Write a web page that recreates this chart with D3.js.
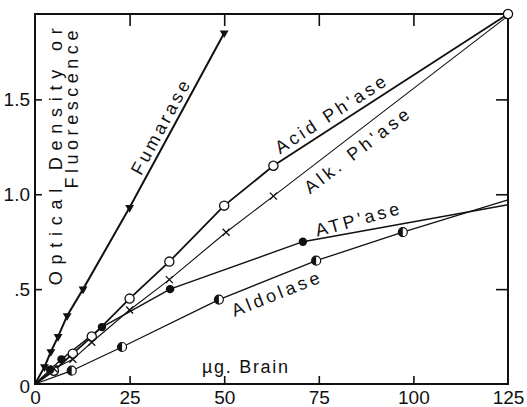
<!DOCTYPE html>
<html>
<head>
<meta charset="utf-8">
<script src="https://cdn.jsdelivr.net/npm/d3@7"></script>
<style>
  body { margin: 0; background: #fff; }
  svg text { font-family: "Liberation Sans", Arial, sans-serif; fill: #111; }
</style>
</head>
<body>
<script>
// values (µg brain vs optical density / fluorescence)
const x_ticks = [0, 25, 50, 75, 100, 125]
const y_ticks = [0, 0.5, 1.0, 1.5]
const y_tick_labels = ['0', '.5', '1.0', '1.5']

const fumarase_ug = [0, 2.5, 4.2, 6.1, 8.5, 12.7, 25, 50]
const fumarase_od = [0, 0.09, 0.17, 0.25, 0.36, 0.50, 0.93, 1.85]

const acid_ug = [0, 5, 10, 15, 25, 35.5, 50, 63, 125]
const acid_od = [0, 0.07, 0.16, 0.25, 0.45, 0.645, 0.94, 1.15, 1.95]

const alk_ug = [0, 5, 10, 15, 25, 35.5, 50.5, 63, 125]
const alk_od = [0, 0.08, 0.13, 0.22, 0.39, 0.55, 0.80, 0.99, 1.94]

const atp_ug = [0, 4, 7, 17.7, 35.7, 70.8, 125]
const atp_od = [0, 0.075, 0.13, 0.30, 0.50, 0.75, 0.945]

const aldolase_ug = [0, 9.7, 23, 48.6, 74.3, 97.2, 125]
const aldolase_od = [0, 0.07, 0.195, 0.445, 0.65, 0.80, 0.97]

const width = 527
const height = 407

const svg = d3.select('body').append('svg')
  .attr('width', width)
  .attr('height', height)
  .attr('viewBox', '0,0,' + width + ',' + height)

const x = d3.scaleLinear().domain([0, 125]).range([35, 508])
const y = d3.scaleLinear().domain([0, 1.95]).range([384, 14])

function zip(us, ods){ return us.map((u, i) => [u, ods[i]]) }

const series = [
  {name: 'Fumarase', pts: zip(fumarase_ug, fumarase_od), mark: 'tri', sw: 2, last: true,
   label: {at: 35.7, off: -5, len: 104, rot: 0}},
  {name: "Acid Ph'ase", pts: zip(acid_ug, acid_od), mark: 'open', sw: 1.8, last: true,
   label: {at: 79.8, off: -6, len: 128, rot: 0}},
  {name: "Alk. Ph'ase", pts: zip(alk_ug, alk_od), mark: 'cross', sw: 1.1, last: false,
   label: {at: 82.6, off: 21, len: 127, rot: 0}},
  {name: "ATP'ase", pts: zip(atp_ug, atp_od), mark: 'filled', sw: 1.4, last: false,
   label: {at: 86, off: -6, len: 86, rot: -5}},
  {name: 'Aldolase', pts: zip(aldolase_ug, aldolase_od), mark: 'half', sw: 1.3, last: false,
   label: {at: 62, off: 22, len: 93, rot: 0}}
]

// box
svg.append('rect')
  .attr('x', x(0)).attr('y', y(1.95))
  .attr('width', x(125) - x(0)).attr('height', y(0) - y(1.95))
  .attr('fill', 'none').attr('stroke', '#111').attr('stroke-width', 2)

// axes, ticks pointing inward
const bottom = svg.append('g')
  .attr('transform', 'translate(0,' + y(0) + ')')
  .call(d3.axisBottom(x).tickValues(x_ticks).tickSize(-8).tickPadding(7))
const left = svg.append('g')
  .attr('transform', 'translate(' + x(0) + ',0)')
  .call(d3.axisLeft(y).tickValues(y_ticks).tickSize(-7).tickPadding(5)
    .tickFormat((d, i) => y_tick_labels[i]))
const top_axis = svg.append('g')
  .attr('transform', 'translate(0,' + y(1.95) + ')')
  .call(d3.axisTop(x).tickValues(x_ticks.slice(1, -1)).tickSize(-12).tickFormat(''))
const right = svg.append('g')
  .attr('transform', 'translate(' + x(125) + ',0)')
  .call(d3.axisRight(y).tickValues(y_ticks.slice(1)).tickSize(-12).tickFormat(''))

for (const ax of [bottom, left, top_axis, right]) {
  ax.select('.domain').remove()
  ax.selectAll('line').attr('stroke', '#111').attr('stroke-width', 1.6)
  ax.selectAll('text').attr('font-size', 19).attr('fill', '#111')
    .style('font-family', '"Liberation Sans", Arial, sans-serif')
}
bottom.selectAll('.tick').filter(d => d == 0 || d == 125).select('line').remove()
left.selectAll('.tick').filter(d => d == 0).select('line').remove()
bottom.selectAll('text').attr('dy', '0.66em')
left.selectAll('.tick').filter(d => d == 0).select('text').attr('dy', '0.45em')

// y axis title
svg.append('text')
  .attr('transform', 'translate(62,' + y(0.52) + ') rotate(-90)')
  .attr('font-size', 18)
  .attr('textLength', 257).attr('lengthAdjust', 'spacing')
  .text('Optical Density or')
svg.append('text')
  .attr('transform', 'translate(78,' + y(1.03) + ') rotate(-90)')
  .attr('font-size', 18)
  .attr('textLength', 158).attr('lengthAdjust', 'spacing')
  .text('Fluorescence')

// x axis title
svg.append('text')
  .attr('x', x(55.5)).attr('y', y(0) - 11)
  .attr('text-anchor', 'middle')
  .attr('font-size', 18)
  .attr('textLength', 86).attr('lengthAdjust', 'spacing')
  .text('\u00b5g. Brain')

const line = d3.line().x(d => x(d[0])).y(d => y(d[1]))

for (const s of series) {
  svg.append('path')
    .attr('d', line(s.pts))
    .attr('fill', 'none')
    .attr('stroke', '#111')
    .attr('stroke-width', s.sw)
}

// markers
const marks = svg.append('g')
for (const s of series) {
  const pts = s.pts.filter((d, i) => i > 0 && (s.last || i < s.pts.length - 1))
  const g = marks.selectAll(null).data(pts).enter().append('g')
    .attr('transform', d => 'translate(' + x(d[0]) + ',' + y(d[1]) + ')')
  if (s.mark == 'tri') {
    g.append('path')
      .attr('d', d3.symbol(d3.symbolTriangle, 34)())
      .attr('transform', 'rotate(180)')
      .attr('fill', '#111')
  } else if (s.mark == 'open') {
    g.append('circle').attr('r', 4.6)
      .attr('fill', '#fff').attr('stroke', '#111').attr('stroke-width', 1.3)
  } else if (s.mark == 'filled') {
    g.append('circle').attr('r', 4.2).attr('fill', '#111')
  } else if (s.mark == 'cross') {
    g.append('path')
      .attr('d', 'M-3.5,-3.5L3.5,3.5M-3.5,3.5L3.5,-3.5')
      .attr('stroke', '#111').attr('stroke-width', 1.3)
  } else if (s.mark == 'half') {
    g.append('circle').attr('r', 4.5)
      .attr('fill', '#fff').attr('stroke', '#111').attr('stroke-width', 1.2)
    g.append('path')
      .attr('d', d3.arc()({innerRadius: 0, outerRadius: 4.5, startAngle: Math.PI, endAngle: 2 * Math.PI}))
      .attr('fill', '#111')
  }
}

// labels along their lines
function point_on(pts, ug){
  const px = pts.map(d => [x(d[0]), y(d[1])])
  const tx = x(ug)
  for (let i = 1; i < px.length; i++) {
    if (tx <= px[i][0] || i == px.length - 1) {
      const a = px[i - 1], b = px[i]
      const t = (tx - a[0]) / (b[0] - a[0])
      const ang = Math.atan2(b[1] - a[1], b[0] - a[0]) * 180 / Math.PI
      return [a[0] + t * (b[0] - a[0]), a[1] + t * (b[1] - a[1]), ang]
    }
  }
}

for (const s of series) {
  const p = point_on(s.pts, s.label.at)
  svg.append('text')
    .attr('transform', 'translate(' + p[0] + ',' + p[1] + ') rotate(' + (p[2] + s.label.rot) + ')')
    .attr('y', s.label.off)
    .attr('text-anchor', 'middle')
    .attr('font-size', 18)
    .attr('textLength', s.label.len).attr('lengthAdjust', 'spacing')
    .text(s.name)
}
</script>
</body>
</html>
